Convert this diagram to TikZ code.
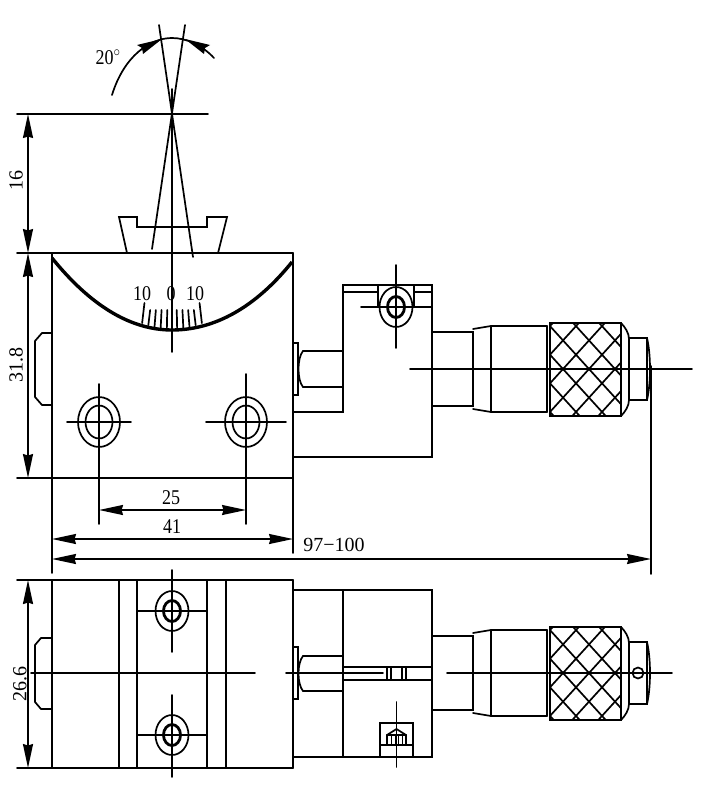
\documentclass[tikz,border=0pt]{standalone}
\usepackage{fontspec}
\setmainfont{Liberation Serif}
\usetikzlibrary{arrows.meta}

\newcommand{\micrometer}{%
  \draw[part] (432,332) -- (473,332) -- (473,406) -- (432,406);
  \draw[part] (473,329) -- (491,326) -- (547,326);
  \draw[part] (473,409) -- (491,412) -- (547,412);
  \draw[part] (491,326) -- (491,412);
  \draw[part] (547,326) -- (547,412);
  \draw[part] (550,323) -- (621,323) -- (621,416) -- (550,416) -- cycle;
  \draw[part] (621,323) .. controls (625,327) and (629,333) .. (629,339) -- (629,400) .. controls (629,406) and (625,412) .. (621,416);
  \draw[part] (629,338) -- (647,338) -- (647,400) -- (629,400);
  \draw[part] (647,338) .. controls (651,355) and (651,383) .. (647,400);
  \begin{scope}
    \clip (550,323) rectangle (621,416);
    \foreach \k in {-3,...,6} {
      \draw[part] ({563+26*\k-50},{369-55}) -- ({563+26*\k+50},{369+55});
      \draw[part] ({563+26*\k-50},{369+55}) -- ({563+26*\k+50},{369-55});
    }
  \end{scope}
}
\newcommand{\boltlarge}[2]{%
  \draw[part] (#1,#2) ellipse [x radius=21pt,y radius=25pt];
  \draw[part] (#1,#2) ellipse [x radius=13.5pt,y radius=16.5pt];
}
\newcommand{\boltsmall}[2]{%
  \draw[part] (#1,#2) ellipse [x radius=16.5pt,y radius=20pt];
  \draw[part,line width=2.8pt] (#1,#2) ellipse [x radius=8.5pt,y radius=10.5pt];
}

\begin{document}
\begin{tikzpicture}[x=1pt,y=-1pt,
    part/.style={line width=1.7pt,line cap=round},
    dim/.style={line width=1.7pt,{Stealth[length=24pt,width=10pt,inset=1.5pt]}-{Stealth[length=24pt,width=10pt,inset=1.5pt]}},
    dimtext/.style={font=\fontsize{20}{20}\selectfont,inner sep=0pt},
    narrowtext/.style={dimtext,xscale=.9,yscale=1.05}]
\useasboundingbox (0,0) rectangle (705,789);

% angle on top
\draw[part] (112,95) .. controls (124,56) and (150,38) .. (172,38) .. controls (186,38) and (202,45) .. (214,58);
\fill (162,39) -- (137,45) -- (142,48) -- (143,54) -- cycle;
\fill (185,39) -- (210,45) -- (205,48) -- (204,54) -- cycle;
\draw[part] (159,25) -- (193,257);
\draw[part] (185,25) -- (152,249);
\draw[part] (172,89) -- (172,352);
\node[narrowtext] (angle) at (108,57) {20$^{\circ}$};

% work piece
\draw[part] (127,253) -- (119,217) -- (137,217) -- (137,227) -- (207,227) -- (207,217) -- (227,217) -- (218,253);

% front view, body
\draw[part] (17,114) -- (208,114);
\draw[part] (17,253) -- (293,253);
\draw[part] (17,478) -- (293,478);
\draw[part] (52,253) -- (52,573);
\draw[part] (293,253) -- (293,553);
\draw[part] (52,333) -- (42,333) -- (35,341) -- (35,397) -- (42,405) -- (52,405);
\draw[line width=3.4pt] (52,258) .. controls (90,305) and (130,330) .. (172,330) .. controls (214,330) and (255,308) .. (292,262);
\foreach \d/\t in {-29/303,-23/310,-17/310,-11/310,-5/310,5/310,11/310,17/310,23/310,29/303}
  \draw[part] ({172+\d*.95},\t) -- ({172+\d*1.03},{329-\d*\d*.007});
\node[narrowtext] (tenl) at (142,294) {10};
\node[narrowtext] (zero) at (171,294) {0};
\node[narrowtext] (tenr) at (195,294) {10};

% front view, holes
\boltlarge{99}{422}
\boltlarge{246}{422}
\draw[part] (67,422) -- (131,422);
\draw[part] (206,422) -- (286,422);
\draw[part] (99,384) -- (99,524);
\draw[part] (246,374) -- (246,524);

% front view, bracket
\draw[part] (293,343) -- (298,343) -- (298,395) -- (293,395);
\draw[part] (343,351) -- (303,351) .. controls (297,358) and (297,380) .. (303,387) -- (343,387);
\draw[part] (293,412) -- (343,412) -- (343,285) -- (432,285) -- (432,457) -- (293,457);
\draw[part] (343,292) -- (378,292);
\draw[part] (414,292) -- (432,292);
\draw[part] (378,285) -- (378,307);
\draw[part] (414,285) -- (414,307);
\boltsmall{396}{307}
\draw[part] (396,265) -- (396,348);
\draw[part] (361,307) -- (432,307);

% front view, micrometer
\micrometer
\draw[part] (410,369) -- (692,369);
\draw[part] (651,366) -- (651,574);

% dimensions
\draw[dim] (28,114) -- (28,253);
\draw[dim] (28,253) -- (28,478);
\draw[dim] (99,510) -- (246,510);
\draw[dim] (52,539) -- (293,539);
\draw[dim] (52,559) -- (651,559);
\node[dimtext,rotate=90] (hgt) at (16,180) {16};
\node[dimtext,rotate=90] (len) at (16,365) {31.8};
\node[narrowtext] (pitch) at (171,498) {25};
\node[narrowtext] (wid) at (172,527) {41};
\node[dimtext] (trav) at (334,545) {97−100};

% top view, body
\draw[part] (17,580) -- (293,580);
\draw[part] (17,768) -- (293,768);
\draw[part] (52,580) -- (52,768);
\draw[part] (293,580) -- (293,768);
\foreach \x in {119,137,207}
  \draw[part] (\x,580) -- (\x,768);
\draw[line width=2.1pt] (226,580) -- (226,768);
\draw[part] (52,638) -- (41,638) -- (35,645) -- (35,702) -- (41,709) -- (52,709);
\boltsmall{172}{611}
\boltsmall{172}{735}
\draw[part] (172,570) -- (172,652);
\draw[part] (172,695) -- (172,777);
\draw[part] (137,611) -- (207,611);
\draw[part] (137,735) -- (207,735);
\draw[part] (31,673) -- (255,673);
\draw[part] (286,673) -- (383,673);
\draw[dim] (28,580) -- (28,768);
\node[dimtext,rotate=90] (thk) at (20,684) {26.6};

% top view, bracket
\draw[part] (293,590) -- (432,590) -- (432,757) -- (293,757);
\draw[part] (343,590) -- (343,757);
\draw[part] (293,647) -- (298,647) -- (298,699) -- (293,699);
\draw[part] (343,656) -- (303,656) .. controls (297,663) and (297,684) .. (303,691) -- (343,691);
\draw[part] (343,667) -- (432,667);
\draw[part] (343,680) -- (432,680);
\foreach \x in {387,391,402,406}
  \draw[part] (\x,667) -- (\x,680);
\draw[part] (380,757) -- (380,723) -- (413,723) -- (413,757);
\draw[part] (380,745) -- (413,745);
\draw[part] (387,744) -- (387,735) -- (396.5,729) -- (406,735) -- (406,744);
\draw[part] (387,735) -- (406,735);
\foreach \x in {391,395,398,402}
  \draw[line width=1pt] (\x,735) -- (\x,744);
\draw[part] (396.5,702) -- (396.5,767);

% top view, micrometer
\begin{scope}[yshift=-304pt]
\micrometer
\end{scope}
\draw[part] (638,673) circle (5.5pt);
\draw[part] (447,673) -- (672,673);
\end{tikzpicture}
\end{document}
